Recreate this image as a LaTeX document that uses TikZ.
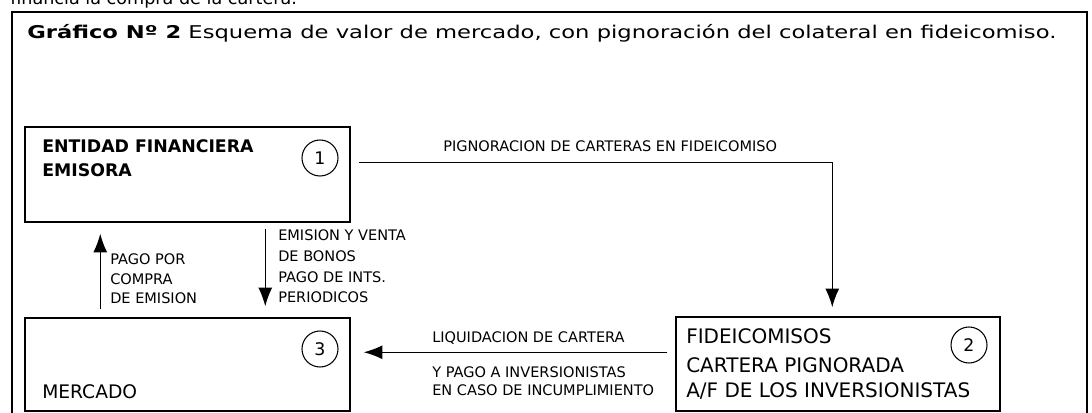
\documentclass[tikz,border=0pt]{standalone}
\usepackage{fontspec}
\usepackage{graphicx}
\setmainfont{DejaVu Sans}
\usetikzlibrary{arrows.meta,fit,calc}
\newcommand\lblfont{\fontsize{10.9pt}{13pt}\selectfont}
\newcommand\boldboxfont{\fontsize{13pt}{15pt}\selectfont\bfseries}
\newcommand\fidfont{\fontsize{15pt}{18pt}\selectfont}
\newcommand\mercfont{\fontsize{14pt}{17pt}\selectfont}
\newcommand\numfont{\fontsize{13pt}{15pt}\selectfont}
\newcommand\titfont{\fontsize{13.2pt}{16pt}\selectfont}
\tikzset{
  boxstyle/.style={draw, line width=1.1pt, inner sep=0pt},
  num/.style={circle, draw, line width=0.8pt, minimum size=27pt, inner sep=0pt, font=\numfont},
  lbl/.style={anchor=base west, inner sep=0pt, font=\lblfont},
  arr/.style={line width=1pt, -{Latex[length=14pt,width=10.5pt]}},
}
\begin{document}
\begin{tikzpicture}[x=0.75pt,y=-0.75pt]
\useasboundingbox (0,0) rectangle (1092,413);
\clip (0,0) rectangle (1092,413);
\fill[white] (0,0) rectangle (1092,413);
% partially visible line above the frame
\node[anchor=base west, inner sep=0pt, font=\titfont] (toptext) at (10,5) {financia la compra de la cartera.};
% outer frame
\node[draw, line width=1.1pt, inner sep=0pt, fit={(12,12) (1087,450)}] (frame) {};
% title
\node[anchor=base west, inner sep=0pt, font=\titfont] (title) at (27,39)
  {\resizebox{771.75pt}{\height}{\textbf{Gráfico Nº 2} Esquema de valor de mercado, con pignoración del colateral en fideicomiso.}};
% boxes
\node[boxstyle, fit={(25,127) (350,222)}] (b1) {};
\node[boxstyle, fit={(25,318) (350,411)}] (b3) {};
\node[boxstyle, fit={(676,317) (1000,411)}] (b2) {};
% circled numbers
\node[num] (c1) at (320,158) {1};
\node[num] (c3) at (320,349) {3};
\node[num] (c2) at (969,345) {2};
% box texts
\node[anchor=base west, inner sep=0pt, font=\boldboxfont] (t1a) at (42,153) {ENTIDAD FINANCIERA};
\node[anchor=base west, inner sep=0pt, font=\boldboxfont] (t1b) at (42,177) {EMISORA};
\node[anchor=base west, inner sep=0pt, font=\mercfont] (t3) at (42,398) {MERCADO};
\node[anchor=base west, inner sep=0pt, font=\fidfont] (t2a) at (686,343) {FIDEICOMISOS};
\node[anchor=base west, inner sep=0pt, font=\fidfont] (t2b) at (686,372) {CARTERA PIGNORADA};
\node[anchor=base west, inner sep=0pt, font=\fidfont] (t2c) at (686,397) {A/F DE LOS INVERSIONISTAS};
% connectors
\draw[arr] ($(b1.north east)+(8,36)$) -| ($(b2.north west)+(157,-9)$);
\draw[arr] ($(b3.north west)+(76,-8)$) -- ($(b1.south west)+(76,11)$);
\draw[arr] ($(b1.south west)+(241,6)$) -- ($(b3.north west)+(241,-11)$);
\draw[arr] ($(b2.north west)+(-8,36)$) -- ($(b3.north east)+(13,35)$);
% connector labels
\node[lbl] (l1) at (443,152) {PIGNORACION DE CARTERAS EN FIDEICOMISO};
\node[lbl] (l2a) at (110,265) {PAGO POR};
\node[lbl] (l2b) at (110,285) {COMPRA};
\node[lbl] (l2c) at (110,304) {DE EMISION};
\node[lbl] (l3a) at (278,241) {EMISION Y VENTA};
\node[lbl] (l3b) at (278,262) {DE BONOS};
\node[lbl] (l3c) at (278,282) {PAGO DE INTS.};
\node[lbl] (l3d) at (278,302) {PERIODICOS};
\node[lbl] (l4a) at (432,342) {LIQUIDACION DE CARTERA};
\node[lbl] (l4b) at (432,377) {Y PAGO A INVERSIONISTAS};
\node[lbl] (l4c) at (432,395) {EN CASO DE INCUMPLIMIENTO};
\end{tikzpicture}
\end{document}
